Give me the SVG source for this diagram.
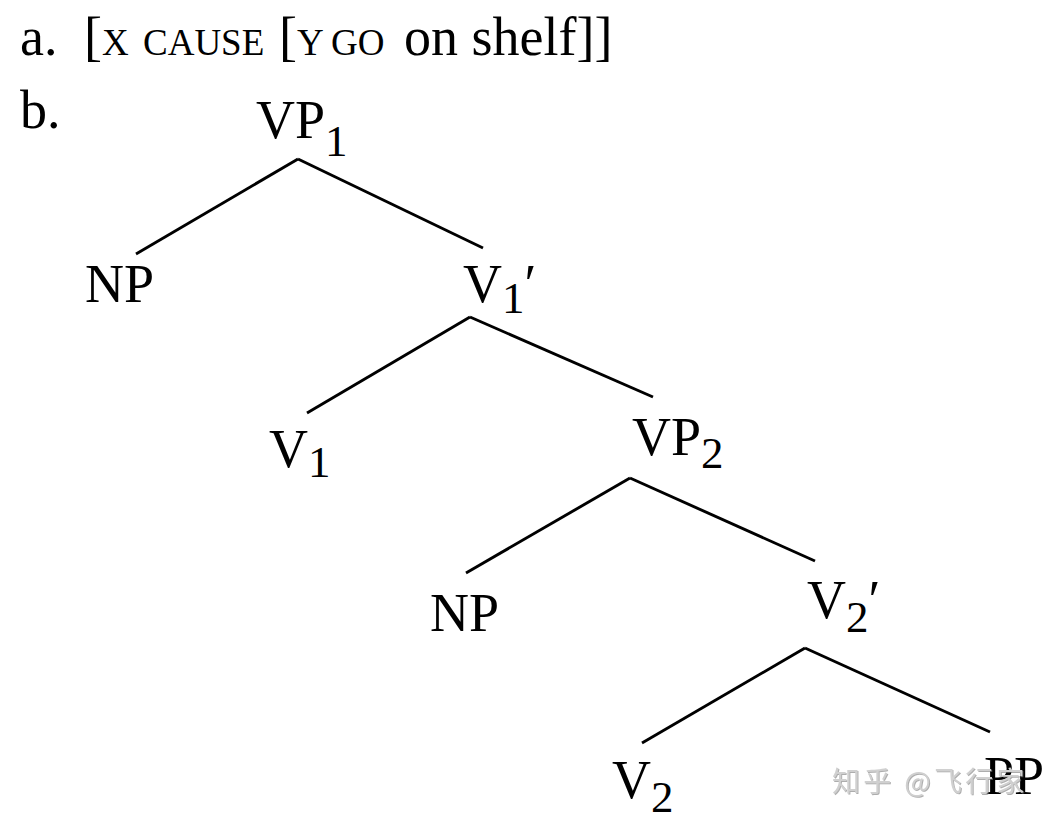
<svg xmlns="http://www.w3.org/2000/svg" width="1051" height="827" viewBox="0 0 1051 827">
<defs>
<style>
text{font-family:"Liberation Serif","Times New Roman",serif;fill:#000}
.lab{font-size:54px}
.sub{font-size:45px}
.sc{font-size:37px}
.edge{stroke:#000;stroke-width:2.9;fill:none;stroke-linecap:butt}
.wm{font-family:"Noto Sans CJK SC","Noto Sans",sans-serif;font-size:28px;letter-spacing:3.3px;fill:#d0d0d0}
</style>
<filter id="sh" x="-10%" y="-30%" width="120%" height="160%">
<feDropShadow dx="1" dy="1" stdDeviation="0.6" flood-color="#777" flood-opacity="0.6"/>
</filter>
</defs>
<rect width="1051" height="827" fill="#fff"/>
<g id="line-a">
<text y="55"><tspan class="lab" x="20">a.</tspan><tspan class="lab" x="84">[</tspan><tspan class="sc" x="102">X</tspan><tspan class="sc" x="143">CAUSE</tspan><tspan class="lab" x="279">[</tspan><tspan class="sc" x="297">Y</tspan><tspan class="sc" x="331">GO</tspan><tspan class="lab" x="404">on shelf]]</tspan></text>
</g>
<g id="line-b"><text class="lab" x="20" y="128">b.</text></g>
<g id="connectors">
<line class="edge" x1="298" y1="159" x2="136" y2="254"/>
<line class="edge" x1="298" y1="159" x2="483" y2="248"/>
<line class="edge" x1="470" y1="317" x2="307" y2="413"/>
<line class="edge" x1="470" y1="317" x2="653" y2="397"/>
<line class="edge" x1="630" y1="478" x2="466" y2="573"/>
<line class="edge" x1="630" y1="478" x2="815" y2="561"/>
<line class="edge" x1="805" y1="648" x2="642" y2="743"/>
<line class="edge" x1="805" y1="648" x2="990" y2="732"/>
</g>
<g id="VP1"><text class="lab" x="256" y="138">VP<tspan class="sub" dy="18">1</tspan></text></g>
<g id="NP1"><text class="lab" x="85" y="302">NP</text></g>
<g id="V1bar"><text class="lab" x="463" y="302">V<tspan class="sub" dy="11">1</tspan><tspan dy="-11">′</tspan></text></g>
<g id="V1"><text class="lab" x="269" y="467">V<tspan class="sub" dy="10">1</tspan></text></g>
<g id="VP2"><text class="lab" x="632" y="455">VP<tspan class="sub" dy="13">2</tspan></text></g>
<g id="NP2"><text class="lab" x="430" y="631">NP</text></g>
<g id="V2bar"><text class="lab" x="807" y="618">V<tspan class="sub" dy="14">2</tspan><tspan dy="-14">′</tspan></text></g>
<g id="V2"><text class="lab" x="612" y="798">V<tspan class="sub" dy="14">2</tspan></text></g>
<g id="PP"><text class="lab" x="984" y="794">PP</text></g>
<g id="watermark"><text class="wm" x="832" y="792" filter="url(#sh)">知乎 @飞行家</text></g>
</svg>
